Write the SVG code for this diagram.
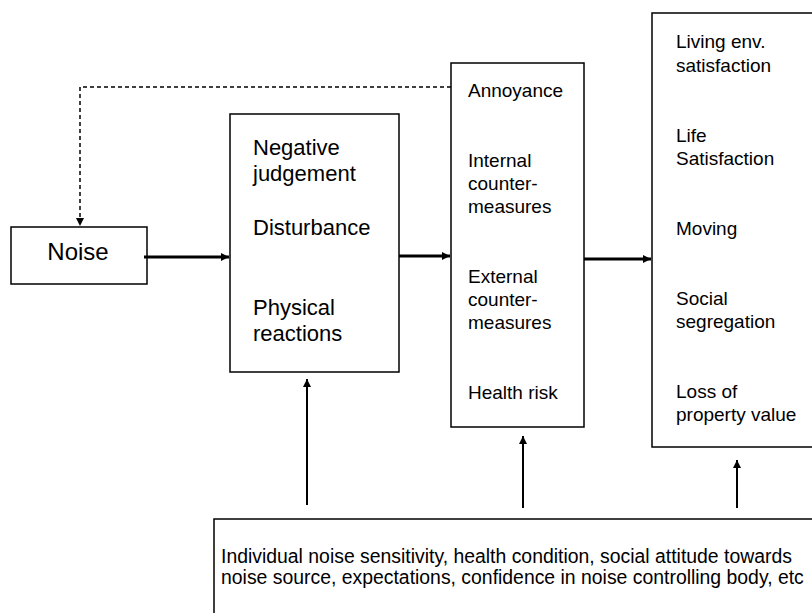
<svg xmlns="http://www.w3.org/2000/svg" width="812" height="613" viewBox="0 0 812 613">
<style>
.box{fill:#fff;stroke:#000;stroke-width:1.5}
text{font-family:"Liberation Sans",Arial,sans-serif;fill:#000}
.t22{font-size:22px}
.t19{font-size:19px}
.tb{font-size:19.4px}
.thick{stroke:#000;stroke-width:3;fill:none}
.thin{stroke:#000;stroke-width:2;fill:none}
.dash{stroke:#000;stroke-width:1.5;fill:none;stroke-dasharray:4 3}
</style>
<defs>
<marker id="ah" viewBox="0 0 10 10" refX="10" refY="5" markerWidth="10" markerHeight="8" markerUnits="userSpaceOnUse" orient="auto"><path d="M0,0L10,5L0,10z" fill="#000"/></marker>
<marker id="ahs" viewBox="0 0 10 10" refX="10" refY="5" markerWidth="9" markerHeight="8" markerUnits="userSpaceOnUse" orient="auto"><path d="M0,0L10,5L0,10z" fill="#000"/></marker>
</defs>
<rect width="812" height="613" fill="#fff"/>
<g id="noise">
<rect class="box" x="11" y="227" width="136" height="57"/>
<text x="78" y="260" font-size="24" text-anchor="middle">Noise</text>
</g>
<g id="reactions">
<rect class="box" x="230" y="114" width="169" height="258"/>
<text class="t22" x="253" y="155">Negative</text>
<text class="t22" x="253" y="181">judgement</text>
<text class="t22" x="253" y="235">Disturbance</text>
<text class="t22" x="253" y="315">Physical</text>
<text class="t22" x="253" y="341">reactions</text>
</g>
<g id="effects">
<rect class="box" x="451" y="63" width="133" height="364"/>
<text class="t19" x="468" y="97">Annoyance</text>
<text class="t19" x="468" y="167">Internal</text>
<text class="t19" x="468" y="190">counter-</text>
<text class="t19" x="468" y="213">measures</text>
<text class="t19" x="468" y="283">External</text>
<text class="t19" x="468" y="306">counter-</text>
<text class="t19" x="468" y="329">measures</text>
<text class="t19" x="468" y="399">Health risk</text>
</g>
<g id="consequences">
<rect class="box" x="652" y="13" width="170" height="434"/>
<text class="t19" x="676" y="48">Living env.</text>
<text class="t19" x="676" y="72">satisfaction</text>
<text class="t19" x="676" y="142">Life</text>
<text class="t19" x="676" y="165">Satisfaction</text>
<text class="t19" x="676" y="235">Moving</text>
<text class="t19" x="676" y="305">Social</text>
<text class="t19" x="676" y="328">segregation</text>
<text class="t19" x="676" y="398">Loss of</text>
<text class="t19" x="676" y="421">property value</text>
</g>
<g id="factors">
<rect class="box" x="214" y="519" width="620" height="120"/>
<text class="tb" x="221" y="563">Individual noise sensitivity, health condition, social attitude towards</text>
<text class="tb" x="221" y="584">noise source, expectations, confidence in noise controlling body, etc</text>
</g>
<g id="connectors">
<path class="thick" d="M144,257H229" marker-end="url(#ah)"/>
<path class="thick" d="M399,256H450" marker-end="url(#ah)"/>
<path class="thick" d="M584,259H651" marker-end="url(#ah)"/>
<path class="dash" d="M451,87H80V226" marker-end="url(#ahs)"/>
<path class="thin" d="M307,505V379" marker-end="url(#ahs)"/>
<path class="thin" d="M523,508V436" marker-end="url(#ahs)"/>
<path class="thin" d="M737,508V460" marker-end="url(#ahs)"/>
</g>
</svg>
